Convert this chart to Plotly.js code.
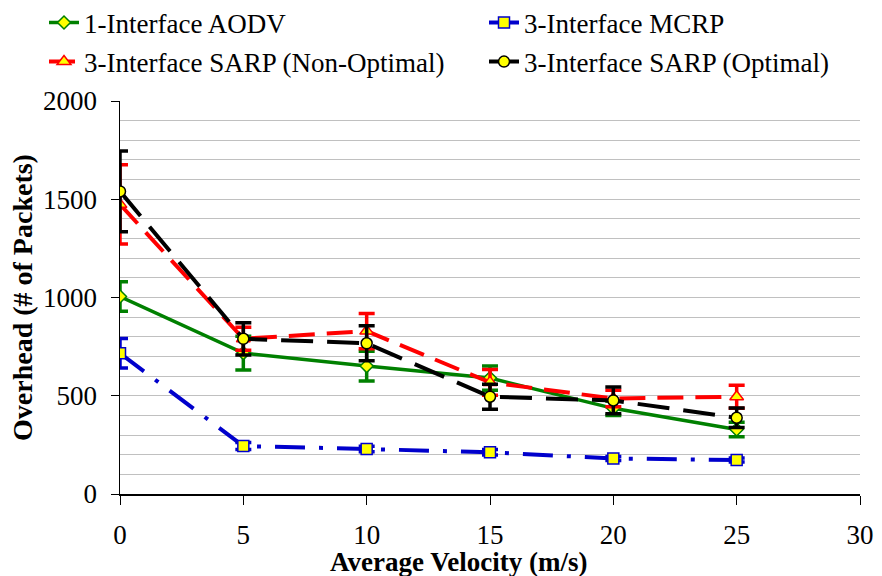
<!DOCTYPE html>
<html>
<head>
<meta charset="utf-8">
<script src="https://cdn.plot.ly/plotly-3.0.1.min.js"></script>
<style>html,body{margin:0;padding:0;background:#fff;}#chart{width:882px;height:576px;}</style>
</head>
<body>
<div id="chart"></div>
<script>
const velocity = [0, 5, 10, 15, 20, 25];

const aodvName = "1-Interface AODV";
const aodvValues = [1005, 717, 651, 590, 436, 328];
const aodvError = [75, 86, 76, 62, 36, 37];

const mcrpName = "3-Interface MCRP";
const mcrpValues = [716, 244, 229, 212, 181, 173];
const mcrpError = [75, 18, 14, 14, 10, 10];

const nonOptName = "3-Interface SARP (Non-Optimal)";
const nonOptValues = [1474, 790, 829, 568, 486, 495];
const nonOptError = [202, 58, 90, 66, 42, 58];

const optName = "3-Interface SARP (Optimal)";
const optValues = [1540, 790, 767, 495, 476, 388];
const optError = [205, 82, 89, 64, 68, 50];

const xTickVals = [0, 5, 10, 15, 20, 25, 30];
const yTickVals = [0, 500, 1000, 1500, 2000];
const yMajorGridVals = [500, 1000, 1500];

function mk(name, y, err, color, dash, width, symbol, msize, legend) {
  return {
    type: 'scatter', mode: 'lines+markers', name: name,
    x: velocity, y: y, legend: legend,
    line: {color: color, width: width, dash: dash},
    marker: {symbol: symbol, size: msize, color: '#ffff00', line: {color: color, width: 1.5}},
    error_y: {type: 'data', array: err, visible: true, color: color, thickness: 3.5, width: 8}
  };
}

const traces = [
  mk(aodvName, aodvValues, aodvError, '#008000', 'solid', 3.5, 'diamond', 10, 'legend'),
  mk(mcrpName, mcrpValues, mcrpError, '#0000cc', '30px,14px,4px,14px', 4, 'square', 11, 'legend2'),
  mk(nonOptName, nonOptValues, nonOptError, '#ff0000', '26px,12px', 4, 'triangle-up', 12, 'legend3'),
  mk(optName, optValues, optError, '#000000', '32px,14px', 4, 'circle', 11, 'legend4')
];

const font = 'Liberation Serif';

function leg(xpx, ypx) {
  return {orientation: 'h', xref: 'container', yref: 'container', x: xpx / 882, y: 1 - ypx / 576,
    xanchor: 'left', yanchor: 'middle', font: {family: font, size: 27, color: '#000'}, bgcolor: 'rgba(0,0,0,0)'};
}

const layout = {
  width: 882, height: 576,
  margin: {l: 120, r: 22, t: 101, b: 82, autoexpand: false},
  paper_bgcolor: '#ffffff', plot_bgcolor: '#ffffff',
  font: {family: font, size: 26, color: '#000'},
  showlegend: true,
  legend: leg(44, 23),
  legend2: leg(484, 23),
  legend3: leg(44, 62),
  legend4: leg(484, 62),
  xaxis: {
    range: [0, 30], tickvals: xTickVals, ticktext: xTickVals.map(String),
    showgrid: false, zeroline: false, showline: true, linecolor: '#000', linewidth: 1.5,
    ticks: 'outside', ticklen: 9, tickcolor: '#000', tickwidth: 1,
    ticklabelstandoff: 7, tickfont: {family: font, size: 27, color: '#000'}
  },
  xaxis2: {
    overlaying: 'x', anchor: 'y', side: 'bottom', range: [0, 30], tickvals: xTickVals,
    showgrid: false, zeroline: false, showline: false, showticklabels: false,
    ticks: 'inside', ticklen: 7, tickcolor: '#000', tickwidth: 1
  },
  yaxis: {
    range: [0, 2000], tickvals: yTickVals, ticktext: yTickVals.map(String),
    showgrid: false,
    zeroline: false, showline: true, linecolor: '#000', linewidth: 1.5,
    ticks: 'outside', ticklen: 8, tickcolor: '#000', tickwidth: 1,
    ticklabelstandoff: 8, tickfont: {family: font, size: 27, color: '#000'},
    minor: {dtick: 100, showgrid: true, gridcolor: '#c0c0c0', gridwidth: 1, ticks: ''}
  },
  yaxis2: {
    overlaying: 'y', range: [0, 2000], tickvals: yMajorGridVals,
    showgrid: true, gridcolor: '#000', gridwidth: 1, showticklabels: false, ticks: '',
    zeroline: false, showline: false
  },
  yaxis3: {
    overlaying: 'y', anchor: 'x', side: 'left', range: [0, 2000], tickvals: yTickVals,
    showgrid: false, showticklabels: false, ticks: 'inside', ticklen: 9, tickcolor: '#000', tickwidth: 1,
    zeroline: false, showline: false
  },
  annotations: [
    {text: '<b>Average Velocity (m/s)</b>', xref: 'paper', yref: 'paper', x: (458 - 120) / 740, y: -(562 - 494) / 393,
      xanchor: 'center', yanchor: 'middle', showarrow: false, font: {family: font, size: 27, color: '#000'}},
    {text: '<b>Overhead (# of Packets)</b>', xref: 'paper', yref: 'paper', x: -(120 - 22) / 740, y: (494 - 298) / 393,
      xanchor: 'center', yanchor: 'middle', textangle: -90, showarrow: false, font: {family: font, size: 28, color: '#000'}}
  ]
};

Plotly.newPlot('chart', traces, layout, {displayModeBar: false, staticPlot: true});
</script>
</body>
</html>
